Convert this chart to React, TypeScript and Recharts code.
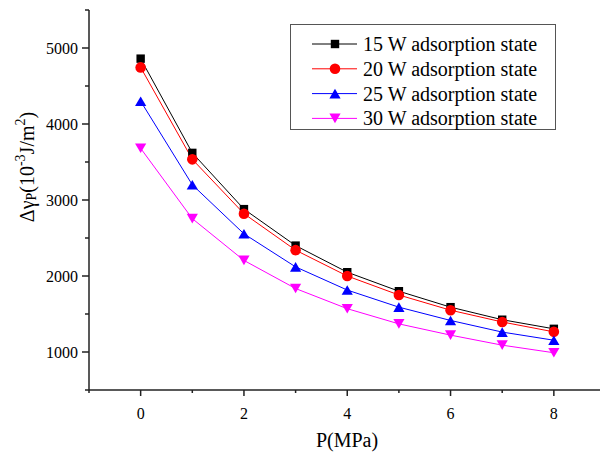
import { LineChart, Line, XAxis, YAxis } from 'recharts';

const pressure = [0, 1, 2, 3, 4, 5, 6, 7, 8];
const w15 = [4860, 3620, 2880, 2400, 2050, 1800, 1590, 1425, 1305];
const w20 = [4745, 3535, 2820, 2340, 2000, 1750, 1550, 1395, 1265];
const w25 = [4300, 3200, 2555, 2120, 1815, 1590, 1415, 1262, 1155];
const w30 = [3680, 2755, 2205, 1835, 1570, 1370, 1222, 1090, 990];

const seriesKeys = ['w15', 'w20', 'w25', 'w30'];
const seriesNames = ['15 W adsorption state', '20 W adsorption state', '25 W adsorption state', '30 W adsorption state'];
const seriesColors = ['#000000', '#FF0000', '#0000FF', '#FF00FF'];
const seriesShapes = ['square', 'circle', 'triangle', 'down'];

const xTicks = [-1, 0, 1, 2, 3, 4, 5, 6, 7, 8, 9];
const yTicks = [500, 1000, 1500, 2000, 2500, 3000, 3500, 4000, 4500, 5000, 5500];

const data = pressure.map((p, i) => ({ p, w15: w15[i], w20: w20[i], w25: w25[i], w30: w30[i] }));

const FONT = 'Liberation Serif';
const AXIS = '#222';
const txt = { fontFamily: FONT, fill: '#000' };

function Marker({ shape, cx, cy, color }: { shape: string; cx: number; cy: number; color: string }) {
  if (shape === 'square') return <rect x={cx - 4.2} y={cy - 4.2} width={8.4} height={8.4} fill={color} />;
  if (shape === 'circle') return <circle cx={cx} cy={cy} r={5.3} fill={color} />;
  if (shape === 'triangle')
    return <polygon points={`${cx},${cy - 4.8} ${cx - 5.6},${cy + 4.8} ${cx + 5.6},${cy + 4.8}`} fill={color} />;
  return <polygon points={`${cx},${cy + 4.8} ${cx - 5.6},${cy - 4.8} ${cx + 5.6},${cy - 4.8}`} fill={color} />;
}

const XTick = (props: any) => {
  const { x, y, payload } = props;
  const major = payload.value % 2 === 0;
  return (
    <g>
      <line x1={x} y1={y} x2={x} y2={y + (major ? 6 : 3)} stroke={AXIS} strokeWidth={1.5} />
      {major && (
        <text x={x} y={y + 23} textAnchor="middle" dominantBaseline="central" fontSize={16} style={txt}>
          {payload.value}
        </text>
      )}
    </g>
  );
};

const YTick = (props: any) => {
  const { x, y, payload } = props;
  const major = payload.value % 1000 === 0;
  return (
    <g>
      <line x1={x - (major ? 7 : 4)} y1={y} x2={x} y2={y} stroke={AXIS} strokeWidth={1.5} />
      {major && (
        <text x={x - 11} y={y} textAnchor="end" dominantBaseline="central" fontSize={16} style={txt}>
          {payload.value}
        </text>
      )}
    </g>
  );
};

const YLabel = () => (
  <text
    x={27}
    y={167}
    transform="rotate(-90, 27, 167)"
    textAnchor="middle"
    dominantBaseline="central"
    fontSize={20}
    style={txt}
  >
    Δγ
    <tspan fontSize={14} dy={4}>P</tspan>
    <tspan dy={-4}>(10</tspan>
    <tspan fontSize={14} dy={-7}>-3</tspan>
    <tspan dy={7}>J/m</tspan>
    <tspan fontSize={14} dy={-7}>2</tspan>
    <tspan dy={7}>)</tspan>
  </text>
);

const XLabel = () => (
  <text x={347} y={440} textAnchor="middle" dominantBaseline="central" fontSize={20} style={txt}>
    P(MPa)
  </text>
);

function LegendBox() {
  return (
    <svg width={267} height={107} style={{ position: 'absolute', left: 290, top: 24 }}>
      <rect x={0.5} y={0.5} width={265} height={105} fill="#fff" stroke="#555" strokeWidth={1} />
      {seriesNames.map((name, i) => {
        const cy = 20 + i * 24.8;
        return (
          <g key={name}>
            <line x1={22} y1={cy} x2={67} y2={cy} stroke={seriesColors[i]} strokeWidth={1} />
            <Marker shape={seriesShapes[i]} cx={45} cy={cy} color={seriesColors[i]} />
            <text x={73} y={cy} dominantBaseline="central" fontSize={20} style={txt}>
              {name}
            </text>
          </g>
        );
      })}
    </svg>
  );
}

export default function App() {
  return (
    <div
      style={{
        position: 'absolute',
        left: 0,
        top: 0,
        width: 600,
        height: 455,
        overflow: 'hidden',
        background: '#fff',
        fontFamily: FONT,
      }}
    >
      <LineChart width={620} height={455} data={data} margin={{ top: 10, right: 14.5, left: 0, bottom: 0 }}>
        <XAxis
          dataKey="p"
          type="number"
          domain={[-1, 9]}
          ticks={xTicks}
          interval={0}
          tickSize={0}
          tickMargin={0}
          tickLine={false}
          tick={<XTick />}
          height={65}
          axisLine={{ stroke: AXIS, strokeWidth: 1.5 }}
          label={<XLabel />}
        />
        <YAxis
          type="number"
          domain={[500, 5500]}
          ticks={yTicks}
          interval={0}
          tickSize={0}
          tickMargin={0}
          tickLine={false}
          tick={<YTick />}
          width={89}
          axisLine={{ stroke: AXIS, strokeWidth: 1.5 }}
          label={<YLabel />}
        />
        {seriesKeys.map((key, i) => (
          <Line
            key={key}
            dataKey={key}
            name={seriesNames[i]}
            type="linear"
            stroke={seriesColors[i]}
            strokeWidth={1}
            isAnimationActive={false}
            dot={(p: any) => (
              <Marker key={`${key}-${p.index}`} shape={seriesShapes[i]} cx={p.cx} cy={p.cy} color={seriesColors[i]} />
            )}
            activeDot={false}
          />
        ))}
      </LineChart>
      <LegendBox />
    </div>
  );
}
